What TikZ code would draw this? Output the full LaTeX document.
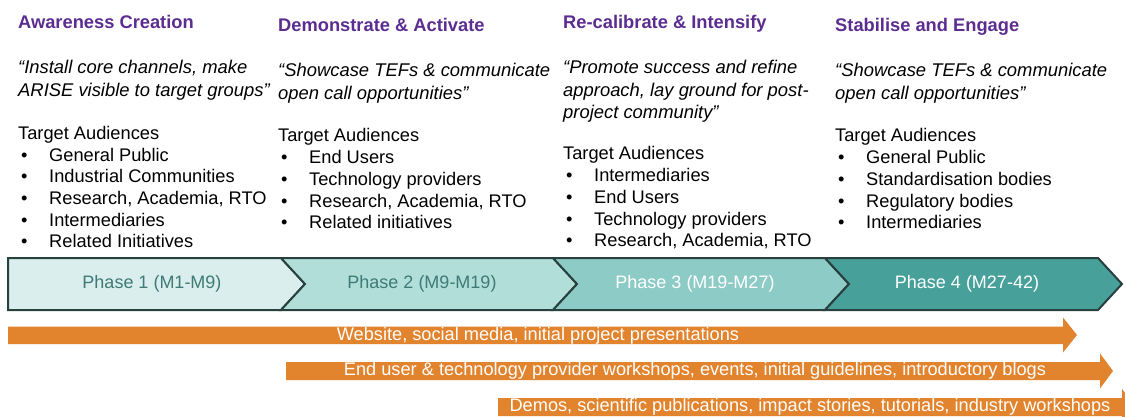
\documentclass[tikz,border=0pt]{standalone}
\usepackage{fontspec}
\setmainfont{Liberation Sans}
\usetikzlibrary{positioning}

\definecolor{headpurple}{RGB}{92,45,145}
\definecolor{phaseline}{RGB}{40,64,62}
\definecolor{phaseA}{RGB}{218,238,237}
\definecolor{phaseB}{RGB}{178,222,218}
\definecolor{phaseC}{RGB}{140,203,198}
\definecolor{phaseD}{RGB}{72,160,154}
\definecolor{phasetext}{RGB}{62,122,118}
\definecolor{barorange}{RGB}{226,131,45}

\newcommand{\itm}{\makebox[31pt][l]{\hspace{3pt}\textbullet}}

\begin{document}
\begin{tikzpicture}[x=1pt, y=-1pt,
    head/.style={anchor=base west, inner sep=0pt, text=headpurple, font=\fontsize{18.3}{22}\selectfont\bfseries},
    quote/.style={anchor=north west, inner sep=0pt, align=left, font=\fontsize{18.4}{22.5}\selectfont\itshape},
    aud/.style={anchor=north west, inner sep=0pt, align=left, font=\fontsize{18.25}{21.7}\selectfont},
    phase/.style={draw=phaseline, line width=2pt, line join=miter},
    plabel/.style={inner sep=0pt, font=\fontsize{18}{20}\selectfont},
    bar/.style={fill=barorange},
    btext/.style={inner sep=0pt, text=white, font=\fontsize{18.2}{20}\selectfont}
]
\useasboundingbox (0,0) rectangle (1125,417);
\clip (0,0) rectangle (1125,417);
\fill[white] (0,0) rectangle (1125,417);

% column headings
\node[head] (headA) at (18,28.5) {Awareness Creation};
\node[head] (headB) at (278,31.5) {Demonstrate \& Activate};
\node[head] (headC) at (563,28.5) {Re-calibrate \& Intensify};
\node[head] (headD) at (835,31.5) {Stabilise and Engage};

% mottos
\node[quote] (quoteA) at (18,60) {“Install core channels, make\\ARISE visible to target groups”};
\node[quote] (quoteB) at (278,63) {“Showcase TEFs \& communicate\\open call opportunities”};
\node[quote] (quoteC) at (563,60) {“Promote success and refine\\approach, lay ground for post-\\project community”};
\node[quote] (quoteD) at (835,63) {“Showcase TEFs \& communicate\\open call opportunities”};

% target audiences
\node[aud] (audA) at (18,126) {Target Audiences\\\itm General Public\\\itm Industrial Communities\\\itm Research, Academia, RTO\\\itm Intermediaries\\\itm Related Initiatives};
\node[aud] (audB) at (278,128.5) {Target Audiences\\\itm End Users\\\itm Technology providers\\\itm Research, Academia, RTO\\\itm Related initiatives};
\node[aud] (audC) at (563,146.5) {Target Audiences\\\itm Intermediaries\\\itm End Users\\\itm Technology providers\\\itm Research, Academia, RTO};
\node[aud] (audD) at (835,128.5) {Target Audiences\\\itm General Public\\\itm Standardisation bodies\\\itm Regulatory bodies\\\itm Intermediaries};

% phase chevrons
\draw[phase, fill=phaseA] (8,258) -- (281,258) -- (305,284) -- (281,310) -- (8,310) -- cycle;
\draw[phase, fill=phaseB] (281,258) -- (553,258) -- (577,284) -- (553,310) -- (281,310) -- (305,284) -- cycle;
\draw[phase, fill=phaseC] (553,258) -- (825,258) -- (849,284) -- (825,310) -- (553,310) -- (577,284) -- cycle;
\draw[phase, fill=phaseD] (825,258) -- (1098,258) -- (1122,284) -- (1098,310) -- (825,310) -- (849,284) -- cycle;
\node[plabel, text=phasetext] (ph1) at (152,284) {Phase 1 (M1-M9)};
\node[plabel, text=phasetext] (ph2) at (422,284) {Phase 2 (M9-M19)};
\node[plabel, text=white] (ph3) at (695,284) {Phase 3 (M19-M27)};
\node[plabel, text=white] (ph4) at (967,284) {Phase 4 (M27-42)};

% activity arrows
\fill[bar] (8,326.5) -- (1063,326.5) -- (1063,317.5) -- (1077,335) -- (1063,352.5) -- (1063,344) -- (8,344) -- cycle;
\fill[bar] (286,362) -- (1100,362) -- (1100,353.5) -- (1113,371) -- (1100,388.5) -- (1100,380) -- (286,380) -- cycle;
\fill[bar] (498,398) -- (1122,398) -- (1122,389) -- (1136,407) -- (1122,425) -- (1122,416) -- (498,416) -- cycle;
\node[btext] (actA) at (538,335.5) {Website, social media, initial project presentations};
\node[btext] (actB) at (695,371) {End user \& technology provider workshops, events, initial guidelines, introductory blogs};
\node[btext] (actC) at (810,407) {Demos, scientific publications, impact stories, tutorials, industry workshops};
\end{tikzpicture}
\end{document}
